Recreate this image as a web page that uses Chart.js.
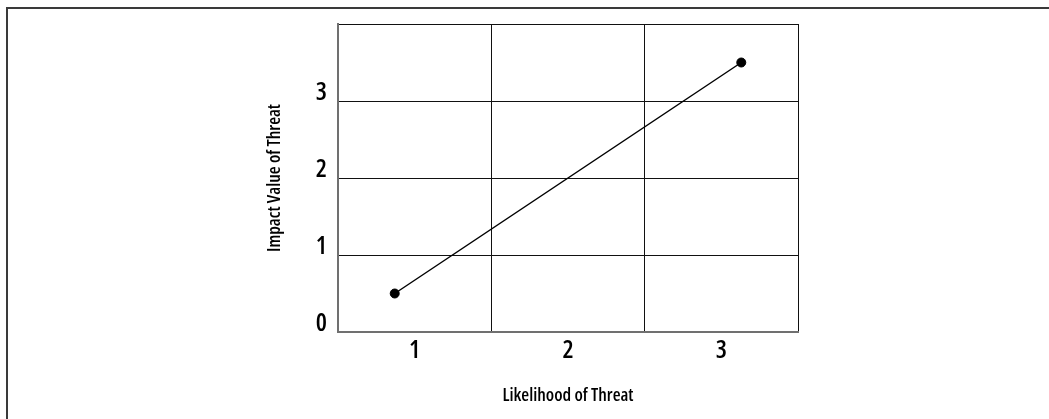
<!DOCTYPE html>
<html>
<head>
<meta charset="utf-8">
<script src="https://cdn.jsdelivr.net/npm/chart.js@4/dist/chart.umd.min.js"></script>
<style>
  html, body { margin: 0; padding: 0; background: #fff; overflow: hidden; }
  #frame { position: absolute; left: 6px; top: 7px; width: 1100px; height: 500px;
           border-top: 2px solid #3a3a3a; border-left: 2px solid #3a3a3a; }
  #wrap { position: absolute; left: 0; top: 0; width: 1049px; height: 419px; }
</style>
</head>
<body>
<div id="frame"></div>
<div id="wrap"><canvas id="c" width="1049" height="419"></canvas></div>
<script>
// ---- data ----
const likelihood = [0.87, 3.13];   // x values of the two points
const impact = [0.5, 3.5];         // y values of the two points
const xTickLabels = [1, 2, 3];     // labelled x ticks (column centres)
const xGridLines = [0.5, 1.5, 2.5, 3.5];
const yTickLabels = [0, 1, 2, 3];
const yGridLines = [0, 1, 2, 3, 4];
const xTitle = 'Likelihood of Threat';
const yTitle = 'Impact Value of Threat';

const FONT = '"Open Sans", "DejaVu Sans Condensed", sans-serif';
const WEIGHT = '600 condensed';
const points = likelihood.map((x, i) => ({ x: x, y: impact[i] }));

new Chart(document.getElementById('c'), {
  type: 'scatter',
  data: {
    datasets: [{
      data: points,
      showLine: true,
      borderColor: '#000',
      borderWidth: 1.5,
      backgroundColor: '#000',
      pointRadius: 4.5,
      pointBorderWidth: 1,
      pointHoverRadius: 4.5
    }]
  },
  options: {
    responsive: false,
    animation: false,
    events: [],
    layout: { padding: { left: 0, top: 24, right: 251, bottom: 0 } },
    plugins: { legend: { display: false }, tooltip: { enabled: false } },
    scales: {
      x: {
        type: 'linear',
        min: xGridLines[0],
        max: xGridLines[xGridLines.length - 1],
        afterBuildTicks: (s) => {
          const vals = [...new Set([...xGridLines, ...xTickLabels])].sort((a, b) => a - b);
          s.ticks = vals.map(v => ({ value: v }));
        },
        afterFit: (s) => { s.height = 87; s.paddingLeft = 0; s.paddingRight = 0; },
        ticks: {
          autoSkip: false,
          maxRotation: 0,
          padding: 4,
          color: '#000',
          font: { family: FONT, size: 25, weight: WEIGHT },
          callback: (v) => xTickLabels.includes(v) ? String(v) : ''
        },
        grid: {
          drawTicks: false,
          lineWidth: 1,
          color: (ctx) => {
            const v = ctx.tick ? ctx.tick.value : null;
            if (v === xGridLines[0]) return 'rgba(0,0,0,0)';
            return xGridLines.includes(v) ? '#111' : 'rgba(0,0,0,0)';
          }
        },
        border: { display: true, color: '#707070', width: 2 },
        title: {
          display: true,
          text: xTitle,
          color: '#000',
          font: { family: FONT, size: 18, weight: WEIGHT },
          padding: { top: 0, bottom: 12 }
        }
      },
      y: {
        type: 'linear',
        min: yGridLines[0],
        max: yGridLines[yGridLines.length - 1],
        afterBuildTicks: (s) => { s.ticks = yGridLines.map(v => ({ value: v })); },
        afterFit: (s) => { s.width = 338; s.paddingTop = 0; s.paddingBottom = 0; },
        ticks: {
          autoSkip: false,
          padding: 11,
          labelOffset: -8,
          color: '#000',
          font: { family: FONT, size: 25, weight: WEIGHT },
          callback: (v) => yTickLabels.includes(v) ? String(v) : ''
        },
        grid: {
          drawTicks: false,
          lineWidth: 1,
          color: (ctx) => {
            const v = ctx.tick ? ctx.tick.value : null;
            if (v === yGridLines[0]) return 'rgba(0,0,0,0)';
            return '#111';
          }
        },
        border: { display: true, color: '#707070', width: 2 },
        title: {
          display: true,
          text: yTitle,
          color: '#000',
          font: { family: FONT, size: 18, weight: WEIGHT },
          padding: { top: 264, bottom: 0 }
        }
      }
    }
  }
});
</script>
</body>
</html>
